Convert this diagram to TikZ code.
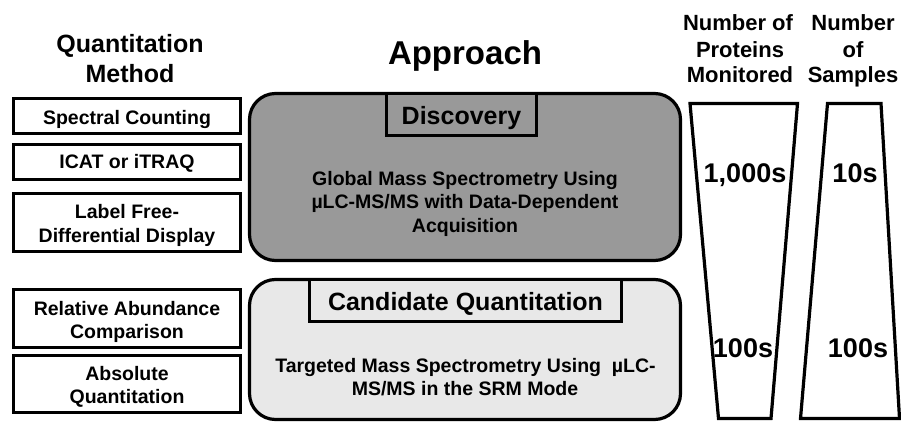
\documentclass[tikz,border=0pt]{standalone}
\usepackage{fontspec}
\setmainfont{Liberation Sans}
\newcommand{\fsz}[1]{\fontsize{#1}{#1}\selectfont\bfseries}
\begin{document}
\begin{tikzpicture}[x=1pt,y=-1pt,
  lw/.style={line width=3.2pt},
  qbox/.style={draw,lw,minimum width=227pt,inner sep=0pt},
  bigbox/.style={draw,lw,rounded corners=26pt,minimum width=431pt,inner sep=0pt},
  tagbox/.style={draw,lw,minimum height=42pt,inner sep=0pt},
  txt/.style={anchor=base,inner sep=0pt,font=\fsz{19.5}},
  tag/.style={anchor=base,inner sep=0pt,font=\fsz{25}},
  hd/.style={anchor=base,inner sep=0pt,font=\fsz{25}},
  nh/.style={anchor=base,inner sep=0pt,font=\fsz{22}},
  num/.style={anchor=base,inner sep=0pt,font=\fsz{27}}]
\useasboundingbox (0,0) rectangle (901,423);
% headings
\node[hd] (h1) at (130,52) {Quantitation};
\node[hd] (h2) at (130,82) {Method};
\node[hd,font=\fsz{33}] (h3) at (465,64) {Approach};
\node[nh] (n1) at (738,30) {Number of};
\node[nh] (n2) at (740,57) {Proteins};
\node[nh] (n3) at (740,82) {Monitored};
\node[nh] (n4) at (853,30) {Number};
\node[nh] (n5) at (853,57) {of};
\node[nh] (n6) at (853,82) {Samples};
% left boxes
\node[qbox,minimum height=35pt] (b1) at (127,116) {};
\node[txt] (b1t) at (127,124) {Spectral Counting};
\node[qbox,minimum height=35pt] (b2) at (127,162) {};
\node[txt] (b2t) at (127,168) {ICAT or iTRAQ};
\node[qbox,minimum height=58pt] (b3) at (127,222.5) {};
\node[txt] (b3a) at (127,218) {Label Free-};
\node[txt] (b3b) at (127,242) {Differential Display};
\node[qbox,minimum height=58pt] (b4) at (127,318.5) {};
\node[txt] (b4a) at (127,315) {Relative Abundance};
\node[txt] (b4b) at (127,338) {Comparison};
\node[qbox,minimum height=57pt] (b5) at (127,384) {};
\node[txt] (b5a) at (127,380) {Absolute};
\node[txt] (b5b) at (127,403) {Quantitation};
% approach boxes
\node[bigbox,fill=black!40,minimum height=167pt] (d) at (465,177) {};
\node[tagbox,fill=black!40,minimum width=150pt] (dt) at (461.5,114.5) {};
\node[tag] (dtt) at (461.5,124) {Discovery};
\node[txt] (dx1) at (465,185) {Global Mass Spectrometry Using};
\node[txt] (dx2) at (465,208) {µLC-MS/MS with Data-Dependent};
\node[txt] (dx3) at (465,232) {Acquisition};
\node[bigbox,fill=black!9,minimum height=140pt] (c) at (465,349.5) {};
\node[tagbox,fill=black!9,minimum width=312pt] (ct) at (465.5,300.5) {};
\node[tag] (ctt) at (465.5,310) {Candidate Quantitation};
\node[txt] (cx1) at (465.5,372) {Targeted Mass Spectrometry Using\ \ µLC-};
\node[txt] (cx2) at (465,395) {MS/MS in the SRM Mode};
% trapezoids
\coordinate (p1) at (690,103.5);
\coordinate (p2) at (797.5,103.5);
\coordinate (p3) at (771,418.5);
\coordinate (p4) at (718.5,418.5);
\draw[lw,line join=miter] (p1) -- (p2) -- (p3) -- (p4) -- cycle;
\coordinate (s1) at (827.5,103.5);
\coordinate (s2) at (881,103.5);
\coordinate (s3) at (899.5,418.5);
\coordinate (s4) at (800.5,418.5);
\draw[lw,line join=miter] (s1) -- (s2) -- (s3) -- (s4) -- cycle;
\node[num] (t1) at (745,182) {1,000s};
\node[num] (t2) at (855,182) {10s};
\node[num] (t3) at (743,357) {100s};
\node[num] (t4) at (858,357) {100s};
\end{tikzpicture}
\end{document}
